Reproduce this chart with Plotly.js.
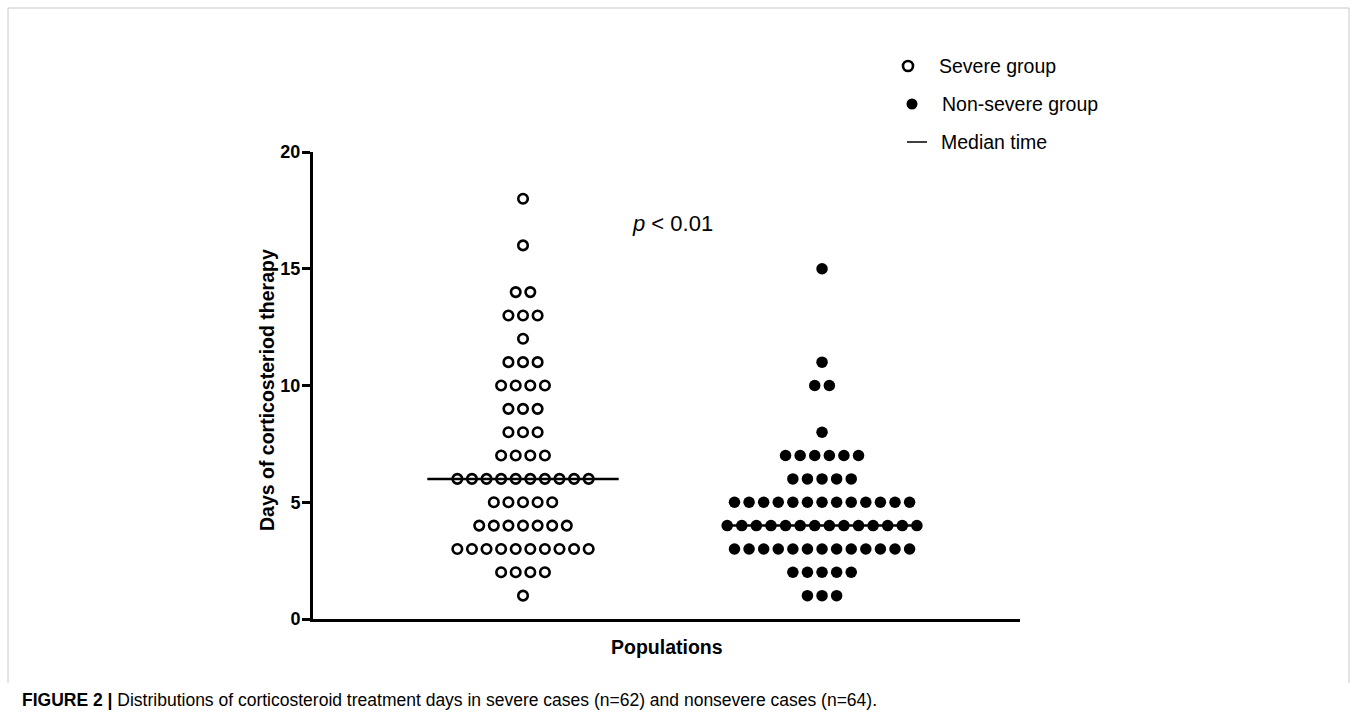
<!DOCTYPE html>
<html>
<head>
<meta charset="utf-8">
<script src="https://cdn.plot.ly/plotly-3.0.1.min.js"></script>
<style>
html,body{margin:0;padding:0;background:#fff;}
#chart{width:1357px;height:721px;}
</style>
</head>
<body>
<div id="chart"></div>
<script>
// ---- data ----
const days = [1,2,3,4,5,6,7,8,9,10,11,12,13,14,15,16,17,18];
const severeCounts    = [1,4,10,7,5,10,4,3,3,4,3,1,3,2,0,1,0,1];   // n = 62
const nonSevereCounts = [3,5,13,14,13,5,6,1,0,2,1,0,0,0,1,0,0,0];  // n = 64
const groupNames = ["Severe group", "Non-severe group"];
const medians = [6, 4];
const yTicks = [0, 5, 10, 15, 20];

// ---- layout helpers ----
const centers = [1, 2];
const step = 0.0488;      // horizontal spacing of stacked dots (x units)
const medHalf = 0.32;     // half width of median line

function swarm(counts, center) {
  const xs = [], ys = [];
  counts.forEach((n, k) => {
    for (let i = 0; i < n; i++) {
      xs.push(center + (i - (n - 1) / 2) * step);
      ys.push(days[k]);
    }
  });
  return {xs, ys};
}
const s = swarm(severeCounts, centers[0]);
const ns = swarm(nonSevereCounts, centers[1]);

const font = "Arial, 'Liberation Sans', Helvetica, sans-serif";
const px = v => (v - 313) / 707;        // pixel x -> paper
const py = v => (619 - v) / 467;        // pixel y -> paper

const traces = [
  {x:[centers[0]-medHalf, centers[0]+medHalf], y:[medians[0], medians[0]], mode:'lines',
   line:{color:'#000', width:2.5}, showlegend:false, hoverinfo:'skip', cliponaxis:false},
  {x:[centers[1]-medHalf, centers[1]+medHalf], y:[medians[1], medians[1]], mode:'lines',
   line:{color:'#000', width:2.5}, showlegend:false, hoverinfo:'skip', cliponaxis:false},
  {x:s.xs, y:s.ys, mode:'markers', name:groupNames[0], showlegend:false, cliponaxis:false,
   marker:{symbol:'circle-open', size:9.5, color:'#000', line:{width:2.6, color:'#000'}}},
  {x:ns.xs, y:ns.ys, mode:'markers', name:groupNames[1], showlegend:false, cliponaxis:false,
   marker:{symbol:'circle', size:11.5, color:'#000'}}
];

const layout = {
  width:1357, height:721,
  margin:{l:313, r:337, t:152, b:102},
  paper_bgcolor:'#fff', plot_bgcolor:'#fff',
  showlegend:false,
  font:{family:font, color:'#000'},
  xaxis:{
    range:[0.2977, 2.662], showgrid:false, zeroline:false, showticklabels:false, ticks:'',
    showline:true, linecolor:'#000', linewidth:3, fixedrange:true
  },
  yaxis:{
    range:[0, 20], tickvals:yTicks, ticktext:yTicks.map(String),
    showgrid:false, zeroline:false, showline:true, linecolor:'#000', linewidth:3,
    ticks:'outside', ticklen:8, tickwidth:3, tickcolor:'#000', ticklabelstandoff:-2,
    tickfont:{family:font, size:18, weight:'bold', color:'#000'}, fixedrange:true
  },
  shapes:[
    // frame
    {type:'line', xref:'paper', yref:'paper', x0:px(8), x1:px(1349), y0:py(8), y1:py(8), line:{color:'#c8c8c8', width:1}},
    {type:'line', xref:'paper', yref:'paper', x0:px(8), x1:px(8), y0:py(8), y1:py(683), line:{color:'#c8c8c8', width:1}},
    {type:'line', xref:'paper', yref:'paper', x0:px(1349), x1:px(1349), y0:py(8), y1:py(683), line:{color:'#c8c8c8', width:1}},
    // legend: open circle, filled dot, median line
    {type:'circle', xref:'paper', yref:'paper', x0:px(903), x1:px(913), y0:py(71), y1:py(61), line:{color:'#000', width:2.6}},
    {type:'circle', xref:'paper', yref:'paper', x0:px(906.5), x1:px(917.5), y0:py(109.5), y1:py(98.5), fillcolor:'#000', line:{color:'#000', width:0}},
    {type:'line', xref:'paper', yref:'paper', x0:px(907), x1:px(927), y0:py(142), y1:py(142), line:{color:'#000', width:1.5}}
  ],
  annotations:[
    {text:'<b>Days of corticosteriod therapy</b>', xref:'paper', yref:'paper', x:0, y:py(390),
     xshift:-46, textangle:-90, showarrow:false, xanchor:'center', yanchor:'middle',
     font:{family:font, size:19.5, color:'#000'}},
    {text:'<b>Populations</b>', xref:'paper', yref:'paper', x:px(667), y:py(647),
     showarrow:false, xanchor:'center', yanchor:'middle', font:{family:font, size:19.5, color:'#000'}},
    {text:'<i>p</i> < 0.01', xref:'paper', yref:'paper', x:px(630), y:py(223),
     showarrow:false, xanchor:'left', yanchor:'middle', font:{family:font, size:22, color:'#000'}},
    {text:groupNames[0], xref:'paper', yref:'paper', x:px(937), y:py(66),
     showarrow:false, xanchor:'left', yanchor:'middle', font:{family:font, size:19.5, color:'#000'}},
    {text:groupNames[1], xref:'paper', yref:'paper', x:px(940), y:py(104),
     showarrow:false, xanchor:'left', yanchor:'middle', font:{family:font, size:19.5, color:'#000'}},
    {text:'Median time', xref:'paper', yref:'paper', x:px(939), y:py(142),
     showarrow:false, xanchor:'left', yanchor:'middle', font:{family:font, size:19.5, color:'#000'}},
    {text:'<b>FIGURE 2 |</b> Distributions of corticosteroid treatment days in severe cases (n=62) and nonsevere cases (n=64).',
     xref:'paper', yref:'paper', x:px(20), y:py(700),
     showarrow:false, xanchor:'left', yanchor:'middle', font:{family:font, size:17.5, color:'#000'}}
  ]
};
Plotly.newPlot('chart', traces, layout, {displayModeBar:false, staticPlot:true});
</script>
</body>
</html>
